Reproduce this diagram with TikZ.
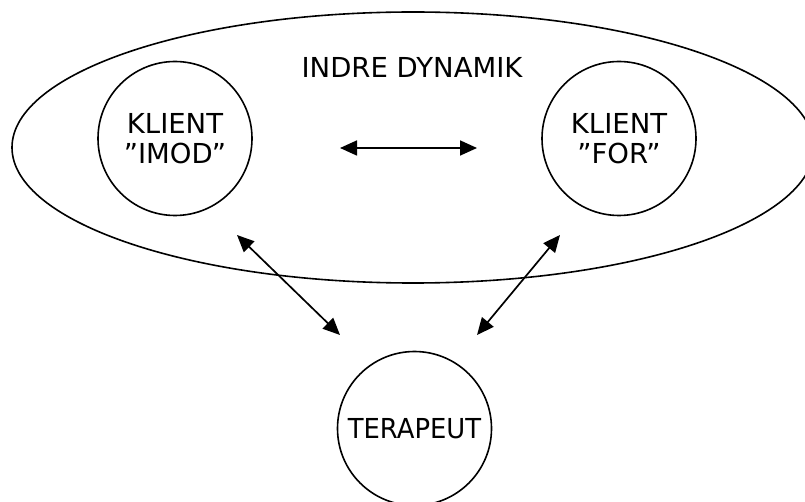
\documentclass[tikz,border=0pt]{standalone}
\usepackage{fontspec}
\setmainfont{DejaVu Sans}
\usetikzlibrary{arrows.meta,shapes.geometric}
\tikzset{
  shape line/.style={draw=black, line width=1.6pt},
  label font/.style={font=\fontsize{27.5}{30}\selectfont},
  person/.style={shape line, circle, minimum size=154pt, inner sep=0pt, align=center, label font},
  link/.style={line width=1.7pt, {Triangle[length=17pt,width=15pt]}-{Triangle[length=17pt,width=15pt]}}
}
\begin{document}
\begin{tikzpicture}[x=1pt,y=1pt]
\useasboundingbox (0,0) rectangle (805,501);
\clip (0,0) rectangle (805,501);
\fill[white] (0,0) rectangle (805,501);
\node[shape line, ellipse, minimum width=802pt, minimum height=271pt, inner sep=0pt] (dyn) at (413,353.5) {};
\node[anchor=base, label font] (title) at (412,423) {INDRE DYNAMIK};
\node[person] (imod) at (175,362.5) {KLIENT\\”IMOD”};
\node[person] (for) at (619,362.5) {KLIENT\\”FOR”};
\node[person] (ter) at (414.5,72.5) {\scalebox{0.94}[1]{TERAPEUT}};
\coordinate (h1) at (340,353);
\coordinate (h2) at (477,353);
\coordinate (l1) at (237,266);
\coordinate (l2) at (340,166);
\coordinate (r1) at (560,266);
\coordinate (r2) at (477,166);
\draw[link] (h1) -- (h2);
\draw[link] (l1) -- (l2);
\draw[link] (r1) -- (r2);
\end{tikzpicture}
\end{document}
